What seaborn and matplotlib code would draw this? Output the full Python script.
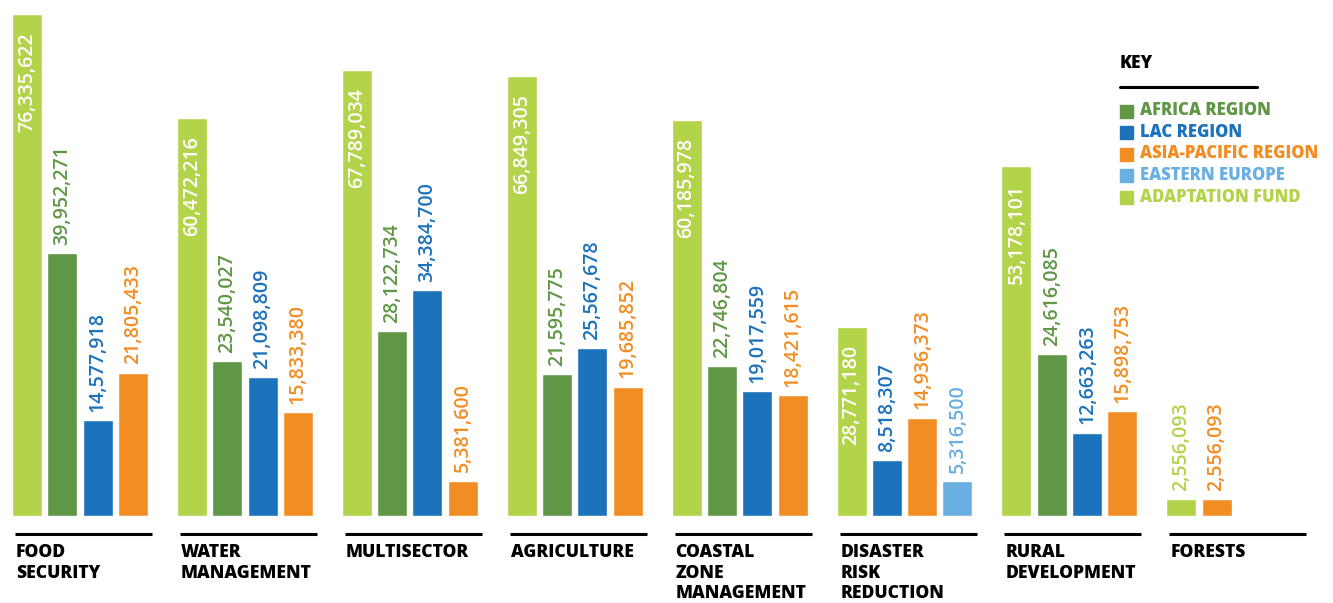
import matplotlib
matplotlib.use("Agg")
import matplotlib.pyplot as plt
import matplotlib.transforms as mtransforms
from matplotlib.patches import Rectangle
import seaborn as sns
import pandas as pd

# ---------------- data ----------------
categories = ["FOOD\nSECURITY", "WATER\nMANAGEMENT", "MULTISECTOR", "AGRICULTURE",
              "COASTAL\nZONE\nMANAGEMENT", "DISASTER\nRISK\nREDUCTION",
              "RURAL\nDEVELOPMENT", "FORESTS"]
series_names = ["ADAPTATION FUND", "AFRICA REGION", "LAC REGION",
                "ASIA-PACIFIC REGION", "EASTERN EUROPE"]
adaptation_fund = [76335622, 60472216, 67789034, 66849305, 60185978, 28771180, 53178101, 2556093]
africa_region = [39952271, 23540027, 28122734, 21595775, 22746804, None, 24616085, None]
lac_region = [14577918, 21098809, 34384700, 25567678, 19017559, 8518307, 12663263, None]
asia_pacific = [21805433, 15833380, 5381600, 19685852, 18421615, 14936373, 15898753, 2556093]
eastern_europe = [None, None, None, None, None, 5316500, None, None]
legend_order = ["AFRICA REGION", "LAC REGION", "ASIA-PACIFIC REGION",
                "EASTERN EUROPE", "ADAPTATION FUND"]

colors = {"ADAPTATION FUND": "#b3d34b", "AFRICA REGION": "#609746",
          "LAC REGION": "#1c72bb", "ASIA-PACIFIC REGION": "#f28d23",
          "EASTERN EUROPE": "#6aafe1"}

# ---------------- layout ----------------
W, H = 1333, 603
GROUP_PITCH, GROUP_X0, SLOT_PITCH, BAR_W = 164.9, 12, 35.3, 30
BASE_PX = 516          # baseline, px from top
PX_PER_UNIT = 502 / 76335622
HEAVY = ["Open Sans", "DejaVu Sans"]

rows = []
all_series = [adaptation_fund, africa_region, lac_region, asia_pacific, eastern_europe]
for gi, cat in enumerate(categories):
    slot = 0
    for name, vals in zip(series_names, all_series):
        v = vals[gi]
        if v is None:
            continue
        x = GROUP_X0 + gi * GROUP_PITCH + slot * SLOT_PITCH + BAR_W / 2
        rows.append({"category": cat, "series": name, "value": v, "x": x})
        slot += 1
df = pd.DataFrame(rows)

sns.set_style("white")
plt.rcParams["font.family"] = ["Open Sans", "DejaVu Sans"]

fig = plt.figure(figsize=(W / 100, H / 100), dpi=100)
ax = fig.add_axes([0, (H - BASE_PX) / H, 1, BASE_PX / H])

sns.barplot(data=df, x="x", y="value", hue="series", palette=colors,
            native_scale=True, dodge=False, errorbar=None,
            width=BAR_W / SLOT_PITCH, saturation=1, legend=False, ax=ax)

ax.set_xlim(0, W)
ax.set_ylim(0, BASE_PX / PX_PER_UNIT)
ax.set_axis_off()

# value labels
for _, r in df.iterrows():
    txt = f"{int(r['value']):,}"
    if r["series"] == "ADAPTATION FUND" and r["value"] > 10e6:
        ax.annotate(txt, (r["x"], r["value"]), xytext=(0, -13), textcoords="offset points",
                    rotation=90, ha="center", va="top", color="white",
                    fontsize=14, fontweight="semibold")
    else:
        ax.annotate(txt, (r["x"], r["value"]), xytext=(0, 6), textcoords="offset points",
                    rotation=90, ha="center", va="bottom", color=colors[r["series"]],
                    fontsize=14, fontweight="semibold")

# category rules and labels
trans = mtransforms.blended_transform_factory(ax.transData, fig.transFigure)
for gi, cat in enumerate(categories):
    gx = GROUP_X0 + gi * GROUP_PITCH
    ax.plot([gx + 3, gx + 140], [1 - 534 / H] * 2, color="black", lw=2.2,
            transform=trans, clip_on=False, solid_capstyle="butt")
    ax.text(gx + 4, 1 - 544 / H, cat, transform=trans, ha="left", va="top",
            fontsize=12.6, fontweight=800, family=HEAVY,
            linespacing=1.28, color="black")

# key
fig.text(1120 / W, 1 - 63 / H, "KEY", ha="left", va="center", fontsize=12.5,
         fontweight=800, family=HEAVY, color="black")
fig.add_artist(plt.Line2D([1120 / W, 1257 / W], [1 - 87 / H] * 2, color="black", lw=2.2,
                          transform=fig.transFigure))
for i, name in enumerate(legend_order):
    yc = 111 + i * 21.5
    fig.add_artist(Rectangle((1120 / W, 1 - (yc + 6.5) / H), 13 / W, 13 / H,
                             color=colors[name], transform=fig.transFigure))
    fig.text(1140 / W, 1 - yc / H, name, ha="left", va="center", fontsize=12,
             fontweight=800, family=HEAVY, color=colors[name])

fig.savefig("out.png", dpi=100)
